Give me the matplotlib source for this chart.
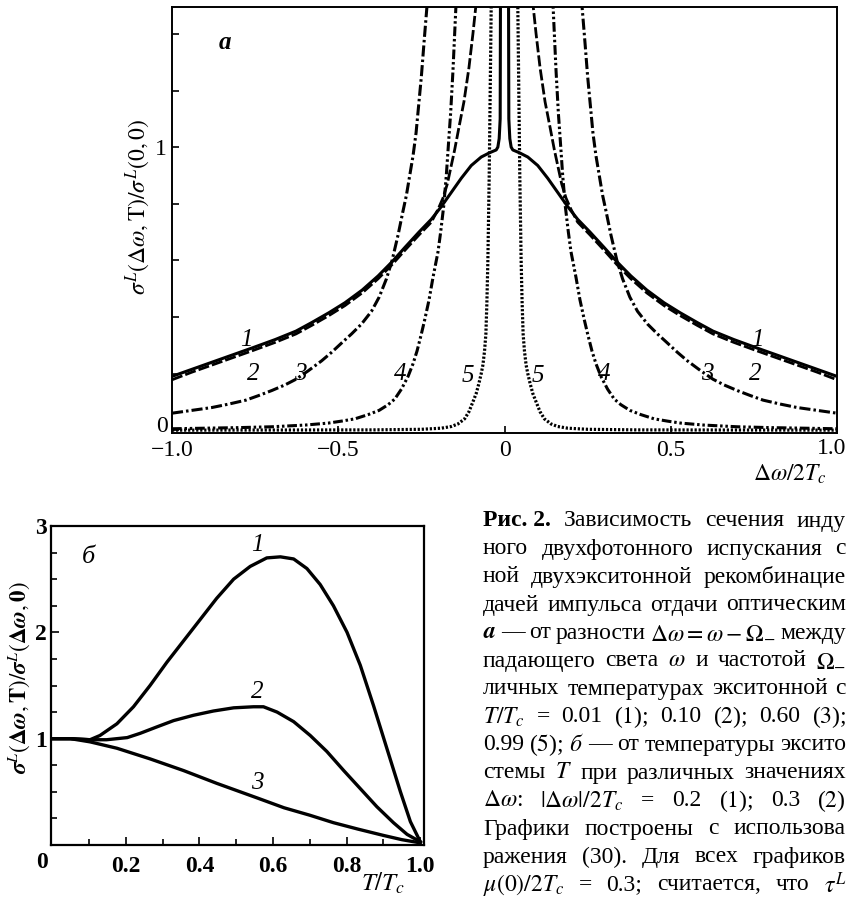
import numpy as np
import matplotlib
matplotlib.use("Agg")
import matplotlib.pyplot as plt

plt.rcParams['font.family'] = ['Liberation Serif', 'DejaVu Serif']
plt.rcParams['mathtext.fontset'] = 'stix'
plt.rcParams['lines.scale_dashes'] = False

# ---------------- panel a data (positive half, curves symmetric in dw) -------------
a_x1 = [0.012, 0.013, 0.016, 0.02, 0.025, 0.045, 0.07, 0.10, 0.13, 0.16, 0.19,
        0.22, 0.257, 0.30, 0.338, 0.38, 0.428, 0.48, 0.528, 0.58, 0.627, 0.69,
        0.76, 0.82, 0.88, 0.94, 1.0]
a_y1 = [1.6, 1.1, 1.03, 1.0, 0.99, 0.98, 0.965, 0.935, 0.89, 0.84, 0.79,
        0.745, 0.70, 0.645, 0.595, 0.545, 0.495, 0.45, 0.415, 0.38, 0.35, 0.32,
        0.29, 0.265, 0.24, 0.215, 0.19]

a_x2 = [0.082, 0.086, 0.095, 0.107, 0.122, 0.137, 0.15, 0.161, 0.172, 0.185,
        0.20, 0.22, 0.257, 0.30, 0.338, 0.38, 0.428, 0.48, 0.528, 0.58, 0.627,
        0.69, 0.76, 0.82, 0.88, 0.94, 1.0]
a_y2 = [1.6, 1.5, 1.40, 1.28, 1.16, 1.07, 0.99, 0.93, 0.87, 0.82,
        0.78, 0.735, 0.69, 0.635, 0.585, 0.535, 0.485, 0.44, 0.405, 0.37, 0.34,
        0.31, 0.28, 0.255, 0.23, 0.205, 0.178]

a_x3 = [0.228, 0.233, 0.242, 0.25, 0.258, 0.266, 0.275, 0.285, 0.295, 0.306,
        0.32, 0.338, 0.355, 0.377, 0.40, 0.43, 0.46, 0.488, 0.52, 0.55, 0.59,
        0.627, 0.66, 0.70, 0.74, 0.778, 0.83, 0.88, 0.94, 1.0]
a_y3 = [1.6, 1.5, 1.37, 1.25, 1.15, 1.05, 0.97, 0.90, 0.83, 0.77,
        0.69, 0.60, 0.535, 0.47, 0.42, 0.375, 0.34, 0.31, 0.275, 0.245, 0.21,
        0.18, 0.16, 0.14, 0.122, 0.106, 0.092, 0.08, 0.07, 0.06]

a_x4 = [0.14, 0.146, 0.155, 0.162, 0.168, 0.175, 0.183, 0.192, 0.20, 0.215,
        0.227, 0.24, 0.25, 0.263, 0.275, 0.29, 0.31, 0.33, 0.35, 0.377, 0.41,
        0.45, 0.49, 0.53, 0.6, 0.7, 0.8, 0.9, 1.0]
a_y4 = [1.6, 1.5, 1.27, 1.12, 1.02, 0.90, 0.79, 0.70, 0.63, 0.54,
        0.46, 0.39, 0.34, 0.28, 0.235, 0.19, 0.145, 0.11, 0.09, 0.07, 0.055,
        0.04, 0.032, 0.025, 0.018, 0.012, 0.009, 0.007, 0.005]

a_x5 = [0.038, 0.04, 0.043, 0.046, 0.05, 0.053, 0.056, 0.06, 0.065, 0.07,
        0.077, 0.085, 0.095, 0.107, 0.12, 0.14, 0.16, 0.19, 0.25, 0.4, 1.0]
a_y5 = [1.6, 1.5, 1.2, 0.9, 0.6, 0.45, 0.34, 0.28, 0.23, 0.2,
        0.165, 0.13, 0.10, 0.065, 0.04, 0.022, 0.013, 0.007, 0.003, 0.001, 0.0]

a_xticks = [-1.0, -0.5, 0.0, 0.5, 1.0]
a_xticklabels = ['\u22121.0', '\u22120.5', '0', '0.5', '']
a_yticks = [0.0, 0.2, 0.4, 0.6, 0.8, 1.0, 1.2, 1.4]
a_yticklabels = ['', '', '', '', '', '1', '', '']

a_labels = ['1', '2', '3', '4', '5']
a_label_xr = [0.76, 0.753, 0.609, 0.30, 0.10]
a_label_xl = [-0.775, -0.756, -0.615, -0.314, -0.11]
a_label_y = [0.32, 0.20, 0.20, 0.20, 0.19]

# ---------------- panel б data ----------------
b_x1 = [0.0, 0.05, 0.103, 0.130, 0.176, 0.221, 0.266, 0.312, 0.357, 0.402,
        0.447, 0.493, 0.538, 0.583, 0.620, 0.656, 0.692, 0.728, 0.764, 0.801,
        0.837, 0.873, 0.909, 0.946, 0.973, 1.0]
b_y1 = [1.0, 1.0, 0.99, 1.03, 1.14, 1.30, 1.50, 1.72, 1.92, 2.12,
        2.32, 2.50, 2.62, 2.70, 2.71, 2.69, 2.60, 2.45, 2.25, 2.00,
        1.69, 1.31, 0.91, 0.50, 0.22, 0.03]

b_x2 = [0.0, 0.05, 0.103, 0.148, 0.204, 0.239, 0.284, 0.330, 0.384, 0.438,
        0.493, 0.547, 0.574, 0.611, 0.656, 0.701, 0.746, 0.792, 0.837, 0.882,
        0.927, 0.964, 1.0]
b_y2 = [1.0, 1.0, 0.99, 0.99, 1.01, 1.05, 1.11, 1.17, 1.22, 1.26,
        1.29, 1.30, 1.30, 1.25, 1.16, 1.03, 0.88, 0.70, 0.53, 0.36,
        0.21, 0.10, 0.03]

b_x3 = [0.0, 0.05, 0.103, 0.176, 0.266, 0.357, 0.447, 0.511, 0.559, 0.63,
        0.70, 0.764, 0.83, 0.9, 0.95, 1.0]
b_y3 = [1.0, 1.0, 0.97, 0.91, 0.81, 0.70, 0.58, 0.50, 0.44, 0.35,
        0.28, 0.21, 0.15, 0.09, 0.05, 0.02]

b_labels = ['1', '2', '3']
b_label_x = [0.557, 0.557, 0.557]
b_label_y = [2.82, 1.44, 0.58]

caption_lines = [
    "Зависимость сечения инду",
    "ного двухфотонного испускания с",
    "ной двухэкситонной рекомбинацие",
    "дачей импульса отдачи оптическим",
    r"$\mathbfit{a}$ — от разности $\Delta\omega = \omega - \Omega_{-}$ между",
    r"падающего света $\omega$ и частотой $\Omega_{-}$",
    "личных температурах экситонной с",
    r"$T/T_c$ = 0.01 ($\mathit{1}$); 0.10 ($\mathit{2}$); 0.60 ($\mathit{3}$);",
    r"0.99 ($\mathit{5}$); $\mathit{б}$ — от температуры эксито",
    r"стемы $T$ при различных значениях",
    r"$\Delta\omega$: $|\Delta\omega|/2T_c$ = 0.2 ($\mathit{1}$); 0.3 ($\mathit{2}$)",
    "Графики построены с использова",
    "ражения (30). Для всех графиков",
    r"$\mu(0)/2T_c$ = 0.3; считается, что $\tau^L$",
]

W, H = 848, 901
fig = plt.figure(figsize=(W / 100, H / 100), dpi=100)

# ---------------- panel a ----------------
axA = fig.add_axes([172 / W, 1 - 433 / H, (837 - 172) / W, (433 - 7) / H])

def mirror(xs, ys):
    xs = np.asarray(xs); ys = np.asarray(ys)
    return np.concatenate([-xs[::-1], xs]), np.concatenate([ys[::-1], ys])

styles = [
    dict(ls='-', lw=2.2),
    dict(ls=(0, (8, 2.2)), lw=2.0),
    dict(ls=(0, (8, 2.2, 1.8, 2.2)), lw=2.2),
    dict(ls=(0, (7, 2.0, 1.8, 2.0, 1.8, 2.0)), lw=2.2),
    dict(ls=(0, (1.6, 1.3)), lw=2.3),
]
for (xs, ys), st in zip([(a_x1, a_y1), (a_x2, a_y2), (a_x3, a_y3), (a_x4, a_y4), (a_x5, a_y5)], styles):
    X, Y = mirror(xs, ys)
    axA.plot(X, Y, color='black', solid_capstyle='butt', dash_capstyle='butt', **st)

axA.set_xlim(-1.0, 1.0)
axA.set_ylim(-0.01, 1.495)
axA.set_xticks(a_xticks)
axA.set_xticklabels(a_xticklabels)
axA.set_yticks(a_yticks)
axA.set_yticklabels(a_yticklabels)
axA.tick_params(direction='in', length=5, width=1.2, labelsize=17, pad=4)
axA.tick_params(axis='x', pad=5)
for s in axA.spines.values():
    s.set_linewidth(1.4)
fig.text(162 / W, 1 - 426 / H, '0', fontsize=17, ha='center', va='center')
fig.text(832 / W, 1 - 449 / H, '1.0', fontsize=17, ha='center', va='center')

for lab, xl, xr, ly in zip(a_labels, a_label_xl, a_label_xr, a_label_y):
    axA.text(xr, ly, lab, style='italic', fontsize=18, ha='center', va='center')
    axA.text(xl, ly, lab, style='italic', fontsize=18, ha='center', va='center')

axA.text(-0.84, 1.37, 'a', style='italic', weight='bold', fontsize=18, ha='center', va='center')

fig.text(138 / W, 1 - 207 / H, r"$\sigma^{L}(\Delta\omega,\mathrm{T})/\sigma^{L}(0,0)$",
         rotation=90, fontsize=17, ha='center', va='center')
fig.text(790 / W, 1 - 474 / H, r"$\Delta\omega/2T_c$", fontsize=17, ha='center', va='center')

# ---------------- panel б ----------------
axB = fig.add_axes([51 / W, 1 - 845 / H, (424 - 51) / W, (845 - 526) / H])
for xs, ys in [(b_x1, b_y1), (b_x2, b_y2), (b_x3, b_y3)]:
    axB.plot(xs, ys, color='black', lw=2.4, solid_joinstyle='round')

axB.set_xlim(-0.003, 1.01)
axB.set_ylim(0.0, 3.0)
axB.set_xticks([0.2, 0.4, 0.6, 0.8, 1.0])
axB.set_xticklabels(['0.2', '0.4', '0.6', '0.8', '1.0'])
axB.set_xticks([0.1, 0.3, 0.5, 0.7, 0.9], minor=True)
axB.set_yticks([1, 2, 3])
axB.set_yticklabels(['1', '2', '3'])
axB.set_yticks([0.25, 0.5, 0.75, 1.25, 1.5, 1.75, 2.25, 2.5, 2.75], minor=True)
axB.tick_params(which='major', direction='in', length=6, width=1.2, labelsize=17, pad=3)
axB.tick_params(axis='x', which='major', pad=8)
axB.tick_params(which='minor', direction='in', length=4, width=1.2)
for t in axB.get_xticklabels() + axB.get_yticklabels():
    t.set_fontweight('bold')
for s in axB.spines.values():
    s.set_linewidth(1.6)

for lab, lx, ly in zip(b_labels, b_label_x, b_label_y):
    axB.text(lx, ly, lab, style='italic', fontsize=18, ha='center', va='center')
axB.text(0.098, 2.71, 'б', style='italic', fontsize=19, ha='center', va='center')

fig.text(42 / W, 1 - 863 / H, '0', fontsize=17, weight='bold', ha='center', va='center')
fig.text(19 / W, 1 - 678 / H, r"$\boldsymbol{\sigma}^{L}(\mathbf{\Delta}\boldsymbol{\omega},\mathbf{T})/\boldsymbol{\sigma}^{L}(\mathbf{\Delta}\boldsymbol{\omega},\mathbf{0})$",
         rotation=90, fontsize=16.5, ha='center', va='center')
fig.text(383 / W, 1 - 883 / H, r"$T/T_c$", fontsize=18, ha='center', va='center')

# ---------------- caption (justified lines, cut at the right edge) ----------------
def split_words(s):
    words, cur, in_math = [], '', False
    for ch in s:
        if ch == '$':
            in_math = not in_math
        if ch == ' ' and not in_math:
            if cur:
                words.append(cur)
            cur = ''
        else:
            cur += ch
    if cur:
        words.append(cur)
    return words

cap_x0, cap_x1 = 483, 846
cap_y0, cap_dy = 521, 28.0
cap_fs = 17
renderer = fig.canvas.get_renderer()

for i, line in enumerate(caption_lines):
    y = 1 - (cap_y0 + i * cap_dy) / H
    items = []
    if i == 0:
        items.append(fig.text(0, y, "Рис. 2.", fontsize=cap_fs, weight='bold', ha='left', va='center'))
    for w in split_words(line):
        items.append(fig.text(0, y, w, fontsize=cap_fs, ha='left', va='center'))
    widths = [t.get_window_extent(renderer).width for t in items]
    gap = (cap_x1 - cap_x0 - sum(widths)) / max(len(items) - 1, 1)
    gap = max(gap, 3.0)
    xpos = cap_x0
    for t, w in zip(items, widths):
        t.set_x(xpos / W)
        xpos += w + gap

fig.savefig("out.png", dpi=100)
